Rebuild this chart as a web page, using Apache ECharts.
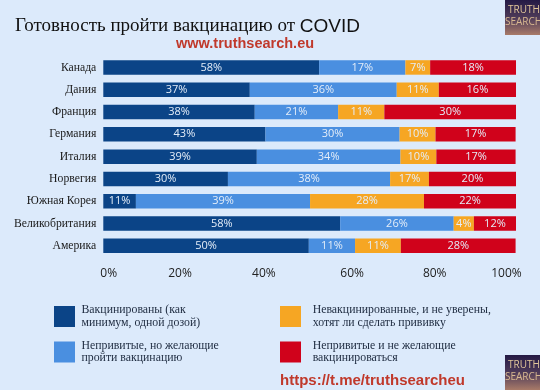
<!DOCTYPE html>
<html>
<head>
<meta charset="utf-8">
<style>html,body{margin:0;padding:0;background:#dceafb}#c{width:540px;height:390px}</style>
<script src="https://cdn.jsdelivr.net/npm/echarts@6/dist/echarts.min.js"></script>
</head>
<body>
<div id="c"></div>
<script>
const categories = ['Канада','Дания','Франция','Германия','Италия','Норвегия','Южная Корея','Великобритания','Америка'];
// Segment lengths as drawn in the picture (the drawn bars differ from the printed percentages)
const vaccinated = [52.3,35.5,36.7,39.3,37.2,30.2,7.9,57.4,49.8];
const willing    = [20.9,35.6,20.2,32.5,34.8,39.3,42.2,27.5,11.2];
const unsure     = [6.0,10.2,11.2,8.7,8.7,9.4,27.6,4.9,11.1];
const unwilling  = [20.8,18.7,31.9,19.4,19.2,21.2,22.3,10.2,27.8];
// Printed labels
const vaccinatedLabels = [58,37,38,43,39,30,11,58,50];
const willingLabels    = [17,36,21,30,34,38,39,26,11];
const unsureLabels     = [7,11,11,10,10,17,28,4,11];
const unwillingLabels  = [18,16,30,17,17,20,22,12,28];
const tickLabels = ['0%','20%','40%','60%','80%','100%'];
const tickPlaces = [1.3,18.6,38.9,60.3,80.3,97.7];
const seriesNames = [
  'Вакцинированы (как\nминимум, одной дозой)',
  'Непривитые, но желающие\nпройти вакцинацию',
  'Невакцинированные, и не уверены,\nхотят ли сделать прививку',
  'Непривитые и не желающие\nвакцинироваться'
];
const colors = ['#0b4487','#4a8fe0','#f6a623','#d0021b'];
const seriesData = [vaccinated,willing,unsure,unwilling];
const seriesLabels = [vaccinatedLabels,willingLabels,unsureLabels,unwillingLabels];
const SERIF = '"Liberation Serif", serif';
const SANS = '"Open Sans", sans-serif';

function logo(y){
  return {type:'group',left:505,top:y,children:[
    {type:'rect',shape:{x:0,y:0,width:35,height:35},style:{fill:{type:'linear',x:0,y:0,x2:0,y2:1,colorStops:[
      {offset:0,color:'#241a45'},{offset:0.5,color:'#4d3a58'},{offset:1,color:'#a87a68'}]}}},
    {type:'text',x:3,y:5,style:{text:'TRUTH',fill:'#e2c79a',font:'10px "Open Sans"'}},
    {type:'text',x:0,y:17,style:{text:'SEARCH',fill:'#d8b890',font:'10px "Open Sans"'}}
  ]};
}
function legendAt(i,left,top,pad){
  return {data:[seriesNames[i]],left:left,top:top,orient:'horizontal',padding:0,icon:'rect',
    itemWidth:21,itemHeight:21,selectedMode:false,
    textStyle:{fontFamily:SERIF,fontSize:11.8,lineHeight:12.5,color:'#1d2a3f',padding:[0,0,0,pad]}};
}
const chart = echarts.init(document.getElementById('c'),null,{renderer:'canvas'});
chart.setOption({
  backgroundColor:'#dceafb',
  animation:false,
  title:[
    {text:'{a|Готовность пройти вакцинацию от }{b|COVID}',left:15,top:17,padding:0,
     textStyle:{fontWeight:'normal',rich:{a:{fontFamily:SERIF,fontSize:19,fontWeight:'normal',color:'#111'},b:{fontFamily:'"Liberation Sans"',fontSize:19,fontWeight:'normal',color:'#111'}}}},
    {text:'www.truthsearch.eu',left:176,top:36,padding:0,textStyle:{fontFamily:'"Liberation Sans"',fontSize:14.5,fontWeight:'bold',color:'#c0392b'}},
    {text:'https://t.me/truthsearcheu',left:280,top:373,padding:0,textStyle:{fontFamily:'"Liberation Sans"',fontSize:15,fontWeight:'bold',color:'#c0392b'}}
  ],
  legend:[legendAt(0,54,304,1.5),legendAt(1,54,339.5,1.5),legendAt(2,280,304,6.7),legendAt(3,280,339.5,6.7)],
  grid:{left:103.3,right:24,top:56.3,height:200.7,containLabel:false},
  xAxis:{type:'value',min:0,max:100,splitLine:{show:false},axisLine:{show:false},axisTick:{show:false},
    axisLabel:{customValues:tickPlaces,margin:11,fontFamily:SANS,fontSize:12,color:'#222',
      formatter:v=>tickLabels[tickPlaces.indexOf(v)]}},
  yAxis:{type:'category',inverse:true,data:categories,axisLine:{show:false},axisTick:{show:false},
    axisLabel:{margin:7,fontFamily:SERIF,fontSize:11.7,color:'#1a1a1a'}},
  series:seriesData.map((d,i)=>({
    name:seriesNames[i],type:'bar',stack:'a',data:d,barWidth:14.5,
    itemStyle:{color:colors[i]},
    label:{show:true,position:'inside',fontFamily:SANS,fontSize:11,color:'#e4edf8',
      formatter:p=>seriesLabels[i][p.dataIndex]+'%'}
  })),
  graphic:[logo(0),logo(355)]
});
</script>
</body>
</html>
